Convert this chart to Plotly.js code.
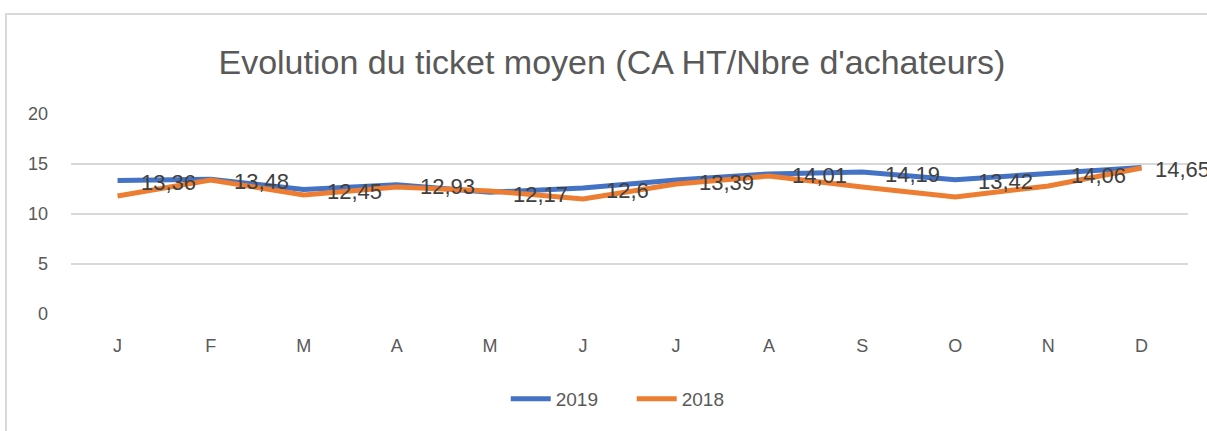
<!DOCTYPE html>
<html>
<head>
<meta charset="utf-8">
<script src="https://cdn.plot.ly/plotly-3.0.1.min.js"></script>
<style>
  html, body { margin: 0; padding: 0; background: #ffffff; }
  #chart { width: 1207px; height: 431px; }
  #frame { position: absolute; left: 5px; top: 13px; width: 1400px; height: 600px;
           border-top: 2px solid #d9d9d9; border-left: 2px solid #d9d9d9;
           pointer-events: none; }
</style>
</head>
<body>
<div id="chart"></div>
<div id="frame"></div>
<script>
const months = ['J','F','M','A','M','J','J','A','S','O','N','D'];
const series2019 = [13.36, 13.48, 12.45, 12.93, 12.17, 12.6, 13.39, 14.01, 14.19, 13.42, 14.06, 14.65];
const series2018 = [11.8, 13.4, 11.9, 12.7, 12.3, 11.5, 13.0, 13.8, 12.7, 11.7, 12.8, 14.6];
const yTicks = [0, 5, 10, 15, 20];
const titleText = "Evolution du ticket moyen (CA HT/Nbre d'achateurs)";

const FONT = 'Liberation Sans, Arial, sans-serif';
const idx = months.map((m, i) => i);

const traces = [
  { x: idx, y: series2019, type: 'scatter', mode: 'lines', name: '2019',
    line: { color: '#4472C4', width: 5 }, hoverinfo: 'skip' },
  { x: idx, y: series2018, type: 'scatter', mode: 'lines', name: '2018',
    line: { color: '#ED7D31', width: 5 }, hoverinfo: 'skip' }
];

const annotations = series2019.map((v, i) => ({
  x: i, y: v, xref: 'x', yref: 'y',
  text: String(v).replace('.', ','),
  showarrow: false, xanchor: 'left', yanchor: 'middle',
  xshift: (i === series2019.length - 1) ? 12 : 21, yshift: -2,
  font: { family: FONT, size: 22, color: '#404040' }
}));

const layout = {
  width: 1207, height: 431,
  margin: { l: 71, r: 19, t: 114, b: 117, pad: 0 },
  paper_bgcolor: '#ffffff', plot_bgcolor: '#ffffff',
  title: { text: titleText, x: 0.507, xref: 'container', xanchor: 'center',
           y: 1 - 62/431, yref: 'container', yanchor: 'middle',
           font: { family: FONT, size: 34, color: '#595959' } },
  xaxis: { range: [-0.5, 11.5], tickvals: idx, ticktext: months,
           showgrid: false, zeroline: false, showline: false, ticks: '',
           ticklabelstandoff: 19,
           tickfont: { family: FONT, size: 18, color: '#595959' }, fixedrange: true },
  yaxis: { range: [0, 20], tickvals: yTicks, ticktext: yTicks.map(String),
           showgrid: true, gridcolor: '#d9d9d9', gridwidth: 1.5,
           zeroline: false, showline: false, ticks: '',
           ticklabelstandoff: 22,
           tickfont: { family: FONT, size: 18, color: '#595959' }, fixedrange: true },
  showlegend: true,
  legend: { orientation: 'h', x: 0.502, xanchor: 'center', y: -0.425, yanchor: 'middle',
            font: { family: FONT, size: 19, color: '#595959' }, itemwidth: 40,
            entrywidth: 71 },
  annotations: annotations
};

Plotly.newPlot('chart', traces, layout, { displayModeBar: false, staticPlot: true });
</script>
</body>
</html>
